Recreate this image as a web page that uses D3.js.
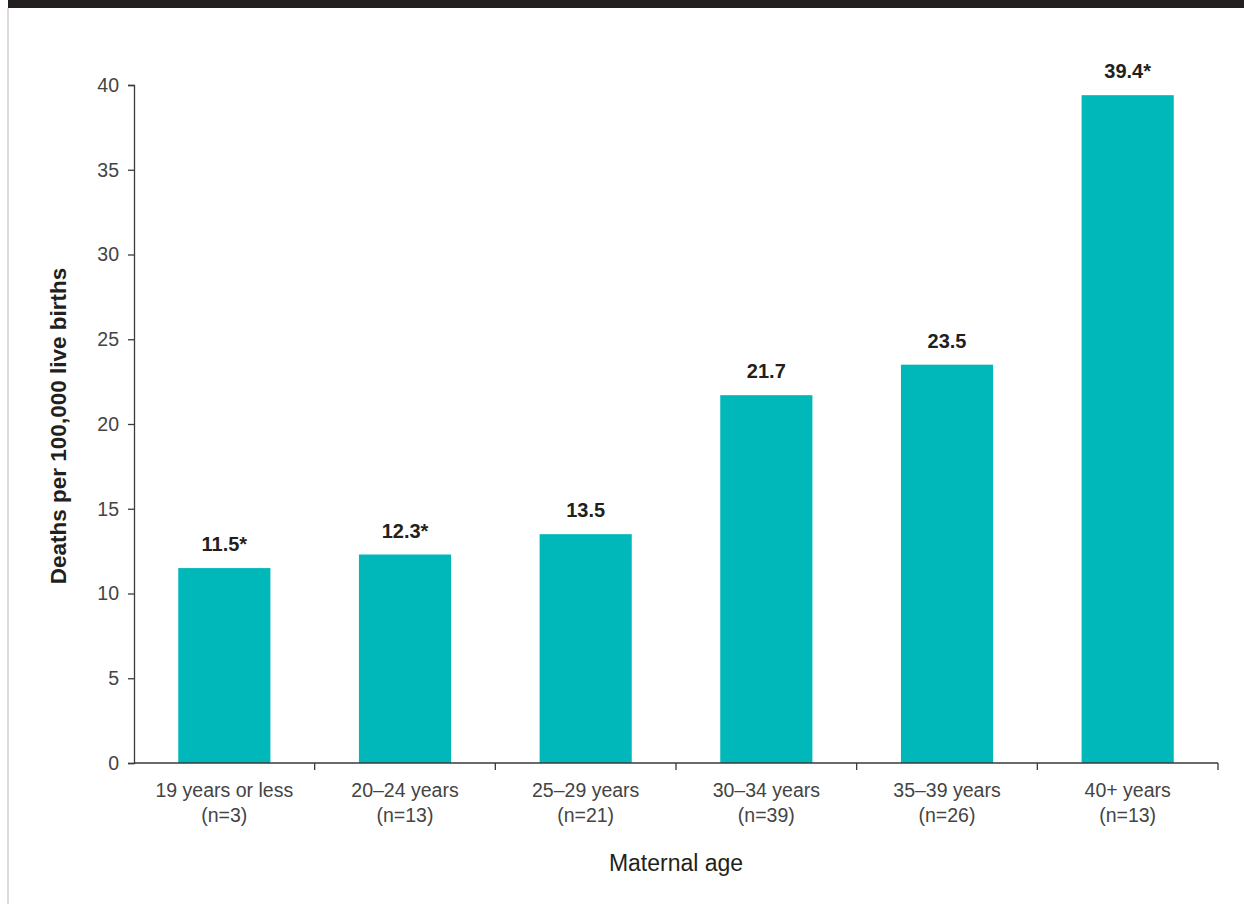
<!DOCTYPE html>
<html>
<head>
<meta charset="utf-8">
<script src="https://cdn.jsdelivr.net/npm/d3@7"></script>
<style>
  html, body { margin: 0; padding: 0; background: #fff; }
  svg { display: block; font-family: "Liberation Sans", Arial, Helvetica, sans-serif; }
</style>
</head>
<body>
<div id="chart"></div>
<script>
// Maternal deaths per 100,000 live births, by maternal age group
const ageGroups = ["19 years or less", "20–24 years", "25–29 years", "30–34 years", "35–39 years", "40+ years"];
const counts = ["(n=3)", "(n=13)", "(n=21)", "(n=39)", "(n=26)", "(n=13)"];
const rates = [11.5, 12.3, 13.5, 21.7, 23.5, 39.4];
const rateLabels = ["11.5*", "12.3*", "13.5", "21.7", "23.5", "39.4*"];
const yTicks = [0, 5, 10, 15, 20, 25, 30, 35, 40];

const W = 1244, H = 904;
const plot = { left: 134, right: 1218, top: 85, bottom: 763 };

const svg = d3.select("#chart").append("svg")
  .attr("width", W).attr("height", H);

// page frame: dark header band and thin grey left rule
svg.append("rect").attr("x", 8).attr("y", 0).attr("width", W - 8).attr("height", 8).attr("fill", "#231f20");
svg.append("line").attr("x1", 8).attr("x2", 8).attr("y1", 8).attr("y2", H)
  .attr("stroke", "#cfcfcf").attr("stroke-width", 1.5);

const x = d3.scaleBand().domain(ageGroups).range([plot.left, plot.right]).paddingInner(0.49).paddingOuter(0.245);
const y = d3.scaleLinear().domain([0, 40]).range([plot.bottom, plot.top]);

// bars
svg.append("g").selectAll("rect").data(rates).join("rect")
  .attr("x", (d, i) => x(ageGroups[i]))
  .attr("y", d => y(d))
  .attr("width", x.bandwidth())
  .attr("height", d => y(0) - y(d))
  .attr("fill", "#00b8b9");

// value labels
svg.append("g").selectAll("text").data(rates).join("text")
  .attr("x", (d, i) => x(ageGroups[i]) + x.bandwidth() / 2)
  .attr("y", d => y(d) - 17)
  .attr("text-anchor", "middle")
  .attr("font-size", 20).attr("font-weight", "bold").attr("fill", "#231f20")
  .text((d, i) => rateLabels[i]);

// y axis
const yAxis = d3.axisLeft(y).tickValues(yTicks).tickSize(6).tickPadding(9);
const gy = svg.append("g").attr("transform", `translate(${plot.left},0)`).call(yAxis);
gy.select(".domain").attr("stroke", "#3a3a3a").attr("stroke-width", 1.3);
gy.selectAll(".tick line").attr("stroke", "#3a3a3a").attr("stroke-width", 1.3);
gy.selectAll(".tick text").attr("font-size", 19.5).attr("fill", "#444")
  .attr("font-family", "'Liberation Sans', Arial, sans-serif");

// x axis: baseline with boundary ticks between categories
const step = x.step();
const boundaries = d3.range(1, ageGroups.length + 1).map(i => plot.left + i * step);
const gx = svg.append("g");
gx.append("line").attr("x1", plot.left).attr("x2", plot.right)
  .attr("y1", y(0)).attr("y2", y(0)).attr("stroke", "#3a3a3a").attr("stroke-width", 1.3);
gx.selectAll("line.tk").data(boundaries).join("line").attr("class", "tk")
  .attr("x1", d => d).attr("x2", d => d)
  .attr("y1", y(0)).attr("y2", y(0) + 7)
  .attr("stroke", "#3a3a3a").attr("stroke-width", 1.3);

// category labels (two lines)
const lab = gx.selectAll("text.cat").data(ageGroups).join("text").attr("class", "cat")
  .attr("text-anchor", "middle").attr("font-size", 19.5).attr("fill", "#444");
lab.append("tspan").attr("x", d => x(d) + x.bandwidth() / 2).attr("y", 797).text(d => d);
lab.append("tspan").attr("x", d => x(d) + x.bandwidth() / 2).attr("y", 822).text((d, i) => counts[i]);

// axis titles
svg.append("text").attr("x", (plot.left + plot.right) / 2).attr("y", 871)
  .attr("text-anchor", "middle").attr("font-size", 23).attr("fill", "#231f20")
  .text("Maternal age");
svg.append("text")
  .attr("transform", `translate(66,${(plot.top + plot.bottom) / 2 + 2}) rotate(-90)`)
  .attr("text-anchor", "middle").attr("font-size", 22.5).attr("font-weight", "bold").attr("fill", "#231f20")
  .text("Deaths per 100,000 live births");
</script>
</body>
</html>
